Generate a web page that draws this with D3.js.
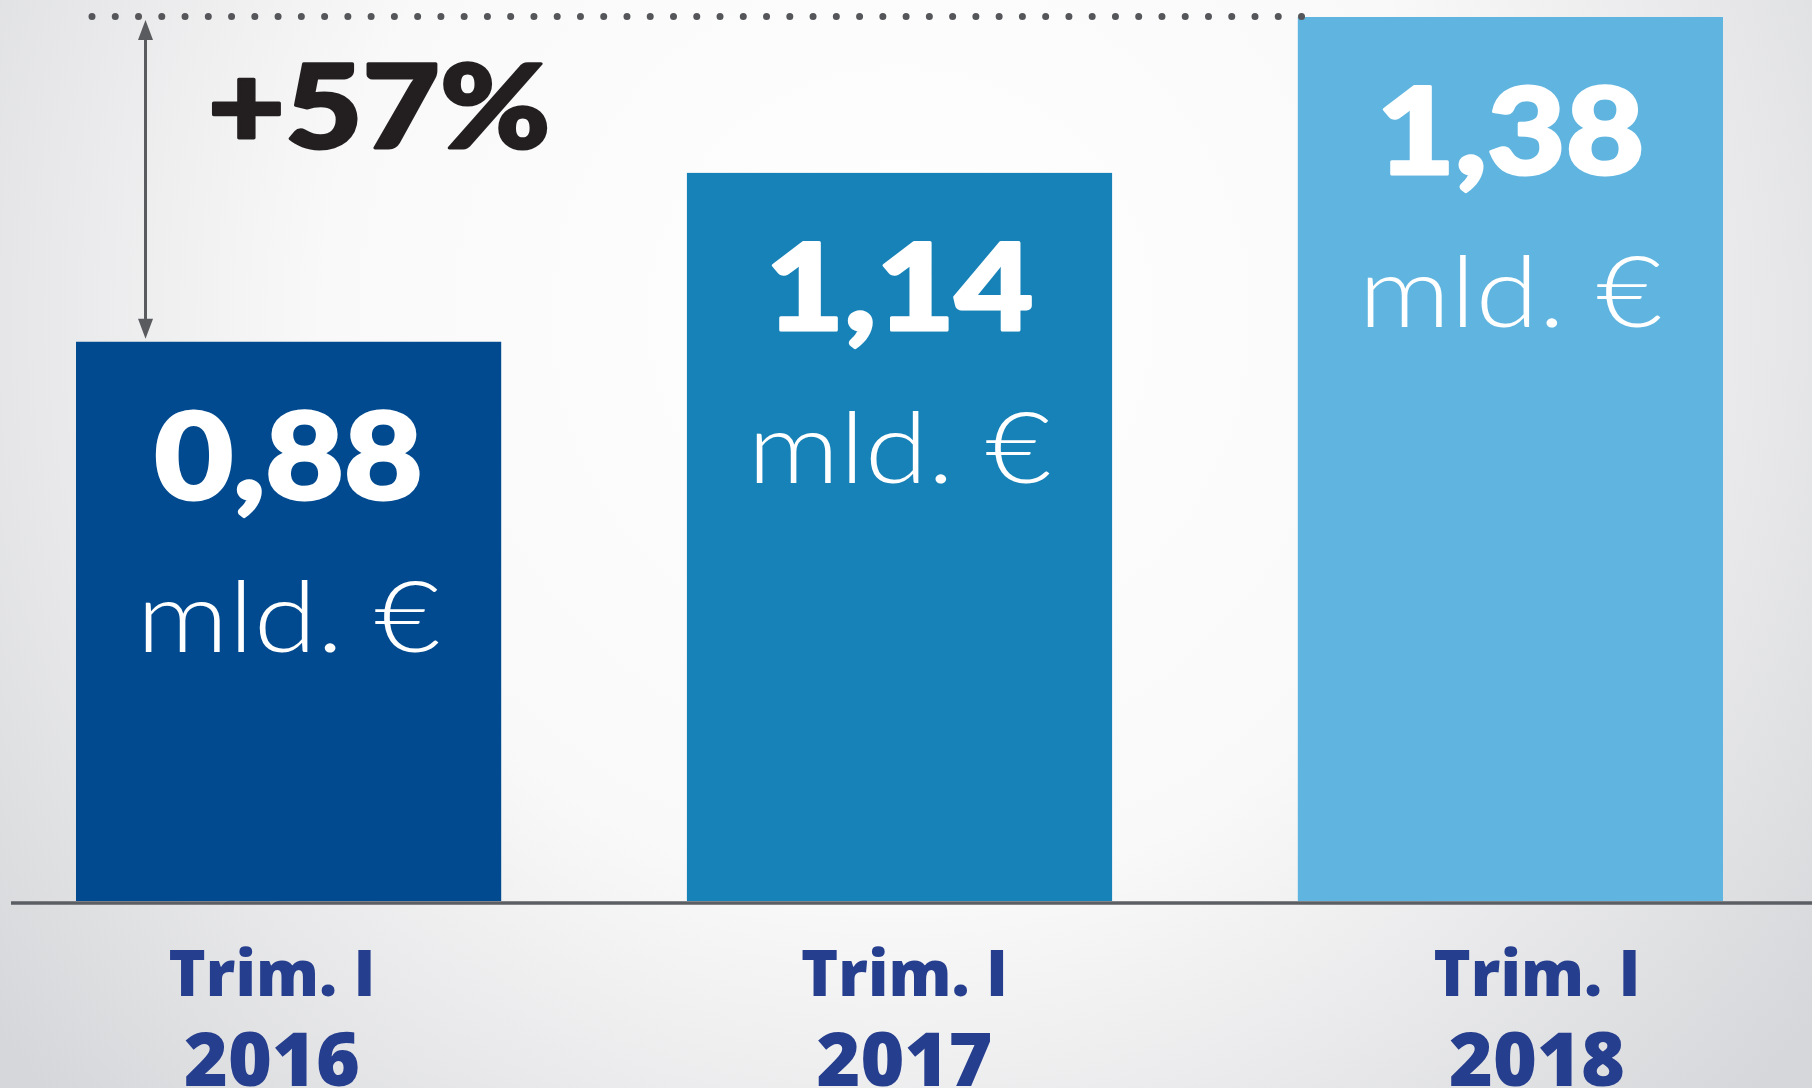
<!DOCTYPE html>
<html>
<head>
<meta charset="utf-8">
<script src="https://cdn.jsdelivr.net/npm/d3@7"></script>
<style>
  html, body { margin: 0; padding: 0; overflow: hidden; }
</style>
</head>
<body>
<div id="chart"></div>
<script>
// data
var periods = ["Trim. I", "Trim. I", "Trim. I"]
var years = ["2016", "2017", "2018"]
var values = [0.88, 1.14, 1.38]
var valueLabels = ["0,88", "1,14", "1,38"]
var unitLabel = "mld. €"
var barColors = ["#024a8f", "#1782b7", "#60b5e0"]

var W = 1812, H = 1088

var svg = d3.select("#chart")
    .append("svg")
    .attr("width", W)
    .attr("height", H)

// background, light radial shade
var defs = svg.append("defs")
var grad = defs.append("radialGradient")
    .attr("id", "bg")
    .attr("gradientUnits", "userSpaceOnUse")
    .attr("cx", 900).attr("cy", 320).attr("r", 1150)
grad.append("stop").attr("offset", 0).attr("stop-color", "#ffffff")
grad.append("stop").attr("offset", 0.5).attr("stop-color", "#f9f9f9")
grad.append("stop").attr("offset", 1).attr("stop-color", "#d6d7da")

svg.append("rect")
    .attr("width", W).attr("height", H)
    .attr("fill", "url(#bg)")

// SCALES
const x = d3.scaleBand()
    .domain(years)
    .range([76, 1723])
    .paddingInner(0.304)
    .paddingOuter(0)

// labels under the axis sit on a slightly wider spacing
const xl = d3.scalePoint()
    .domain(years)
    .range([272, 1537])

// the original bars are not quite zero based
const y = d3.scaleLinear()
    .domain([0.019, d3.max(values)])
    .range([901, 17])
const base = y.range()[0]

var data = years.map(function (yr, i) {
    return { year: yr, period: periods[i], value: values[i], label: valueLabels[i], color: barColors[i] }
})

// BARS
svg.selectAll(".bar")
    .data(data)
    .enter().append("rect")
    .attr("class", "bar")
    .attr("x", d => x(d.year))
    .attr("y", d => y(d.value))
    .attr("width", x.bandwidth())
    .attr("height", d => base - y(d.value))
    .attr("fill", d => d.color)

// baseline
svg.append("line")
    .attr("x1", 11).attr("x2", W)
    .attr("y1", base + 2).attr("y2", base + 2)
    .attr("stroke", "#5b5e63")
    .attr("stroke-width", 3.5)

// value labels inside bars
var vl = svg.selectAll(".val")
    .data(data)
    .enter().append("g")
    .attr("class", "val")
    .attr("transform", d => "translate(" + (x(d.year) + x.bandwidth() / 2) + "," + (y(d.value) + 157) + ")")

vl.append("text")
    .attr("transform", "scale(1.13,1)")
    .attr("text-anchor", "middle")
    .attr("fill", "#ffffff")
    .attr("stroke", "#ffffff")
    .attr("stroke-width", 3)
    .attr("stroke-linejoin", "round")
    .style("font-family", "Lato, 'DejaVu Sans', sans-serif")
    .style("font-weight", 900)
    .style("font-size", "120px")
    .text(d => d.label)

svg.selectAll(".unit")
    .data(data)
    .enter().append("text")
    .attr("class", "unit")
    .attr("x", d => x(d.year) + x.bandwidth() / 2)
    .attr("y", d => y(d.value) + 310)
    .attr("text-anchor", "middle")
    .attr("textLength", 304)
    .attr("lengthAdjust", "spacingAndGlyphs")
    .attr("fill", "#ffffff")
    .style("font-family", "Lato, 'Open Sans', sans-serif")
    .style("font-weight", 300)
    .style("font-size", "98px")
    .text(unitLabel)

// CATEGORY LABELS
svg.selectAll(".period")
    .data(data)
    .enter().append("text")
    .attr("class", "period")
    .attr("x", d => xl(d.year))
    .attr("y", 996)
    .attr("text-anchor", "middle")
    .attr("fill", "#263e8e")
    .style("font-family", "'Open Sans', Lato, sans-serif")
    .style("font-weight", 800)
    .style("font-size", "63px")
    .text(d => d.period)

svg.selectAll(".year")
    .data(data)
    .enter().append("text")
    .attr("class", "year")
    .attr("x", d => xl(d.year))
    .attr("y", 1086)
    .attr("text-anchor", "middle")
    .attr("fill", "#263e8e")
    .style("font-family", "'Open Sans', Lato, sans-serif")
    .style("font-weight", 800)
    .style("font-size", "75px")
    .text(d => d.year)

// GROWTH ANNOTATION
var first = values[0], last = values[values.length - 1]
var topY = y(last)

// dotted reference line at the top value
svg.append("line")
    .attr("x1", 92).attr("x2", x(years[years.length - 1]) + 6)
    .attr("y1", topY - 0.5).attr("y2", topY - 0.5)
    .attr("stroke", "#555659")
    .attr("stroke-width", 7)
    .attr("stroke-linecap", "round")
    .attr("stroke-dasharray", "0 23.26")

// double arrow between first and last value
var ax = 145.5
var a1 = topY + 3, a2 = y(first) - 3
svg.append("line")
    .attr("x1", ax).attr("x2", ax)
    .attr("y1", a1 + 15).attr("y2", a2 - 15)
    .attr("stroke", "#5a5b5e")
    .attr("stroke-width", 3)
svg.append("path")
    .attr("d", "M" + ax + "," + a1 + "L" + (ax - 7.5) + "," + (a1 + 20) + "L" + (ax + 7.5) + "," + (a1 + 20) + "Z")
    .attr("fill", "#5a5b5e")
svg.append("path")
    .attr("d", "M" + ax + "," + a2 + "L" + (ax - 7.5) + "," + (a2 - 20) + "L" + (ax + 7.5) + "," + (a2 - 20) + "Z")
    .attr("fill", "#5a5b5e")

var pct = Math.round((last / first - 1) * 100)
svg.append("g")
    .attr("transform", "translate(379,148)")
    .append("text")
    .attr("transform", "scale(1.15,1)")
    .attr("text-anchor", "middle")
    .attr("fill", "#231f20")
    .attr("stroke", "#231f20")
    .attr("stroke-width", 3)
    .attr("stroke-linejoin", "round")
    .style("font-family", "Lato, 'DejaVu Sans', sans-serif")
    .style("font-weight", 900)
    .style("font-size", "116px")
    .text("+" + pct + "%")
</script>
</body>
</html>
